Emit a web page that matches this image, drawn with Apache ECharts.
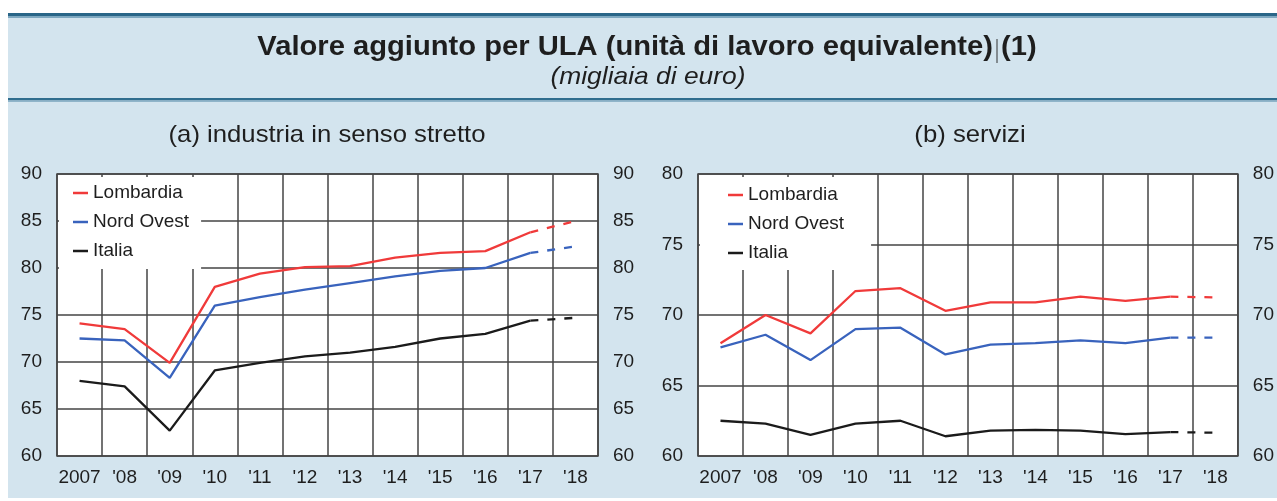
<!DOCTYPE html>
<html>
<head>
<meta charset="utf-8">
<script src="https://cdn.jsdelivr.net/npm/echarts@6/dist/echarts.min.js"></script>
<style>
html,body{margin:0;padding:0;background:#fff;}
#chart{width:1277px;height:501px;}
</style>
</head>
<body>
<div id="chart"></div>
<script>
const categories = ['2007', "'08", "'09", "'10", "'11", "'12", "'13", "'14", "'15", "'16", "'17", "'18"];
const forecastFrom = 10; // '17 -> '18 drawn dashed

// (a) industria in senso stretto
const indLombardia = [74.1, 73.5, 69.9, 78.0, 79.4, 80.1, 80.2, 81.1, 81.6, 81.8, 83.8, 85.0];
const indNordOvest = [72.5, 72.3, 68.3, 76.0, 76.9, 77.7, 78.4, 79.1, 79.7, 80.0, 81.6, 82.3];
const indItalia    = [68.0, 67.4, 62.7, 69.1, 69.9, 70.6, 71.0, 71.6, 72.5, 73.0, 74.4, 74.7];

// (b) servizi
const serLombardia = [68.0, 70.0, 68.7, 71.7, 71.9, 70.3, 70.9, 70.9, 71.3, 71.0, 71.3, 71.25];
const serNordOvest = [67.7, 68.6, 66.8, 69.0, 69.1, 67.2, 67.9, 68.0, 68.2, 68.0, 68.4, 68.4];
const serItalia    = [62.5, 62.3, 61.5, 62.3, 62.5, 61.4, 61.8, 61.85, 61.8, 61.55, 61.7, 61.65];

const yTicksA = { min: 60, max: 90, interval: 5 };
const yTicksB = { min: 60, max: 80, interval: 5 };

const seriesNames = ['Lombardia', 'Nord Ovest', 'Italia'];
const colors = { 'Lombardia': '#f03a3a', 'Nord Ovest': '#3963bd', 'Italia': '#1b1b1b' };

const FONT = '"Liberation Sans", Arial, Helvetica, sans-serif';
const TXT = '#1e1e1e';
const GRIDC = '#454545';

function solidPart(arr) { return arr.map((v, i) => i <= forecastFrom ? v : null); }
function dashPart(arr) { return arr.map((v, i) => i >= forecastFrom ? v : null); }

function makeSeries(name, arr, gi) {
  const c = colors[name];
  return [
    { name: name, type: 'line', xAxisIndex: gi, yAxisIndex: gi * 2, data: solidPart(arr),
      symbol: 'none', color: c, itemStyle: { color: c }, lineStyle: { color: c, width: 2.3 }, z: 3 },
    { name: name + ' (stima)', type: 'line', xAxisIndex: gi, yAxisIndex: gi * 2, data: dashPart(arr),
      symbol: 'none', color: c, itemStyle: { color: c }, lineStyle: { color: c, width: 2.3, type: [8, 9] }, z: 3 }
  ];
}

const grids = [
  { left: 57, right: 679, top: 174, bottom: 45 },
  { left: 698, right: 36, top: 174, bottom: 45 }
];

function xAxis(gi) {
  return {
    type: 'category', gridIndex: gi, data: categories, boundaryGap: true,
    axisLine: { show: false }, axisTick: { show: false },
    axisLabel: { interval: 0, margin: 12, color: TXT, fontFamily: FONT, fontSize: 19 },
    splitLine: { show: true, interval: 0, lineStyle: { color: GRIDC, width: 1.5 } }
  };
}
function yAxes(gi, t) {
  const common = {
    type: 'value', gridIndex: gi, min: t.min, max: t.max, interval: t.interval,
    axisLine: { show: false }, axisTick: { show: false },
    axisLabel: { margin: 15, color: TXT, fontFamily: FONT, fontSize: 19 }
  };
  return [
    Object.assign({}, common, { position: 'left', splitLine: { show: true, lineStyle: { color: GRIDC, width: 1.5 } } }),
    Object.assign({}, common, { position: 'right', splitLine: { show: false } })
  ];
}

const legendCommon = {
  orient: 'vertical', data: seriesNames, icon: 'rect', itemWidth: 15, itemHeight: 2.5,
  itemGap: 9, backgroundColor: '#ffffff', borderWidth: 0, selectedMode: false,
  textStyle: { fontFamily: FONT, fontSize: 19, color: TXT, lineHeight: 20 }
};

const option = {
  animation: false,
  backgroundColor: 'transparent',
  grid: grids.map(g => Object.assign({ show: true, backgroundColor: '#ffffff', borderColor: GRIDC, borderWidth: 1.5 }, g)),
  xAxis: [xAxis(0), xAxis(1)],
  yAxis: [].concat(yAxes(0, yTicksA), yAxes(1, yTicksB)),
  legend: [
    Object.assign({}, legendCommon, { left: 59, top: 177, padding: [6, 12, 8, 14] }),
    Object.assign({}, legendCommon, { left: 700, top: 177, padding: [8, 27, 7, 28] })
  ],
  series: [].concat(
    makeSeries('Lombardia', indLombardia, 0),
    makeSeries('Nord Ovest', indNordOvest, 0),
    makeSeries('Italia', indItalia, 0),
    makeSeries('Lombardia', serLombardia, 1),
    makeSeries('Nord Ovest', serNordOvest, 1),
    makeSeries('Italia', serItalia, 1)
  ),
  graphic: [
    { type: 'rect', z: -100, silent: true, shape: { x: 8, y: 13, width: 1269, height: 485 }, style: { fill: '#d3e4ee' } },
    { type: 'rect', z: -99, silent: true, shape: { x: 8, y: 13, width: 1269, height: 3 }, style: { fill: '#2a6688' } },
    { type: 'rect', z: -99, silent: true, shape: { x: 8, y: 16, width: 1269, height: 2 }, style: { fill: '#7ea8c0' } },
    { type: 'rect', z: -99, silent: true, shape: { x: 8, y: 98, width: 1269, height: 2.5 }, style: { fill: '#2f6d8e' } },
    { type: 'rect', z: -99, silent: true, shape: { x: 8, y: 100.5, width: 1269, height: 1.5 }, style: { fill: '#8fb4c9' } },
    { type: 'text', z: 100, x: 647, y: 48, scaleX: 1.08, style: { text: 'Valore aggiunto per ULA (unità di lavoro equivalente) (1)', fill: '#1e1e1e',
      font: 'bold 27px ' + FONT, textAlign: 'center', textVerticalAlign: 'middle' } },
    { type: 'line', z: 100, shape: { x1: 997, y1: 39, x2: 997, y2: 63 }, style: { stroke: '#333', lineWidth: 1 } },
    { type: 'text', z: 100, x: 648, y: 77, scaleX: 1.1, style: { text: '(migliaia di euro)', fill: '#1e1e1e',
      font: 'italic 24px ' + FONT, textAlign: 'center', textVerticalAlign: 'middle' } },
    { type: 'text', z: 100, x: 327, y: 135, scaleX: 1.07, style: { text: '(a) industria in senso stretto', fill: '#1e1e1e',
      font: '24px ' + FONT, textAlign: 'center', textVerticalAlign: 'middle' } },
    { type: 'text', z: 100, x: 970, y: 135, scaleX: 1.07, style: { text: '(b) servizi', fill: '#1e1e1e',
      font: '24px ' + FONT, textAlign: 'center', textVerticalAlign: 'middle' } }
  ]
};

const chart = echarts.init(document.getElementById('chart'), null, { renderer: 'canvas' });
chart.setOption(option);
</script>
</body>
</html>
